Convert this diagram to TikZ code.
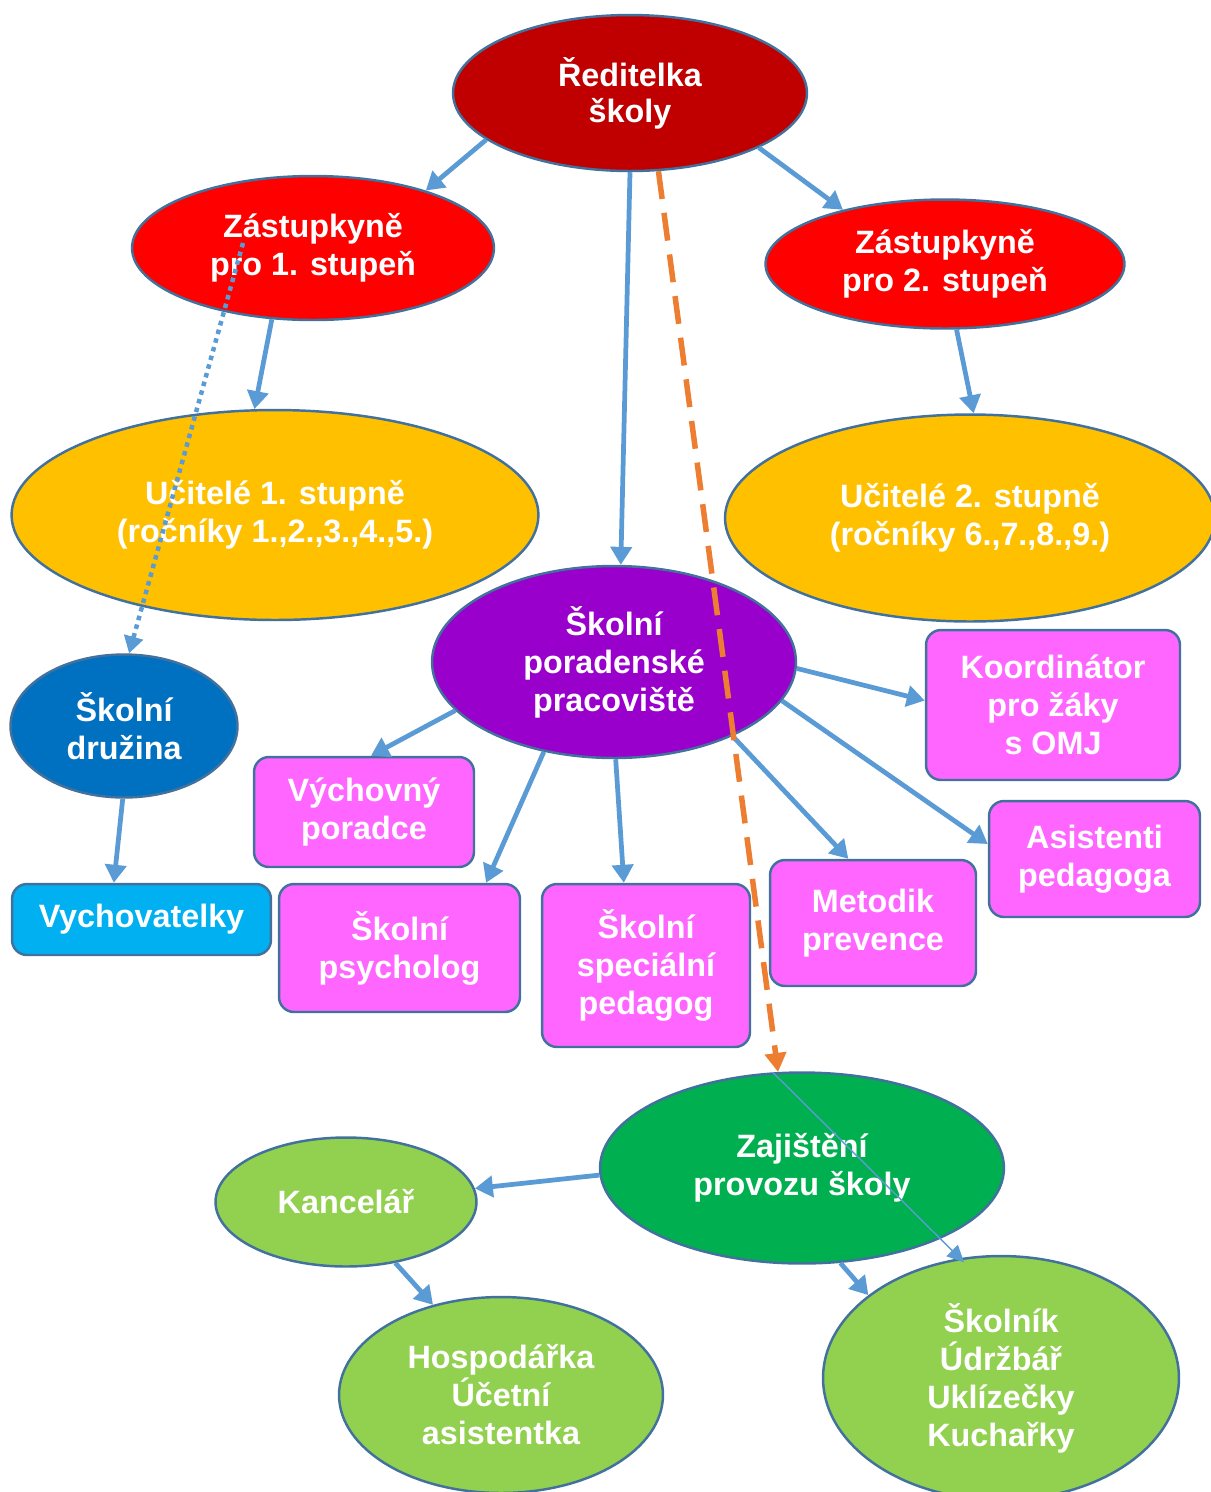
\documentclass[tikz,border=0pt]{standalone}
\usepackage{fontspec}
\setmainfont{Liberation Sans}
\usetikzlibrary{shapes.geometric,arrows.meta}
\definecolor{headred}{HTML}{C00000}
\definecolor{deputyred}{HTML}{FF0000}
\definecolor{teachgold}{HTML}{FFC000}
\definecolor{counselpurple}{HTML}{9900CC}
\definecolor{clubblue}{HTML}{0070C0}
\definecolor{carecyan}{HTML}{00B0F0}
\definecolor{staffpink}{HTML}{FF66FF}
\definecolor{opsgreen}{HTML}{00B050}
\definecolor{lightgreen}{HTML}{92D050}
\definecolor{linkblue}{HTML}{5B9BD5}
\definecolor{outline}{HTML}{41719C}
\definecolor{dashorange}{HTML}{ED7D31}
\begin{document}
\begin{tikzpicture}[x=0.02cm,y=-0.02cm,
  label font/.style={font=\bfseries\fontsize{18.4}{21.6}\selectfont},
  oval/.style={ellipse, draw=outline, line width=1.4pt, inner sep=0pt,
    text=white, label font, align=center},
  box/.style={rectangle, rounded corners=0.3cm, draw=outline, line width=1.4pt,
    inner sep=0pt, text=white, label font, align=center},
  link/.style={draw=linkblue, line width=0.095cm,
    -{Triangle[length=0.36cm,width=0.42cm]}},
  dotlink/.style={draw=linkblue, line width=0.09cm,
    dash pattern=on 0.09cm off 0.09cm,
    -{Triangle[length=0.34cm,width=0.38cm]}},
  dashlink/.style={draw=dashorange, line width=0.11cm,
    dash pattern=on 0.56cm off 0.28cm,
    -{Triangle[length=0.38cm,width=0.42cm]}},
  thinlink/.style={draw=linkblue, line width=0.8pt,
    -{Triangle[length=0.34cm,width=0.32cm]}}
]
\useasboundingbox (0,0) rectangle (1211,1492);
\clip (0,0) rectangle (1211,1492);

% leadership
\node[oval, fill=headred, minimum width=7.08cm, minimum height=3.12cm] (head) at (630,93) {Ředitelka\\[-1pt]školy};
\node[oval, fill=deputyred, minimum width=7.24cm, minimum height=2.88cm] (dep1) at (313,248) {Zástupkyně\\pro 1. stupeň};
\node[oval, fill=deputyred, minimum width=7.18cm, minimum height=2.58cm] (dep2) at (945,264) {Zástupkyně\\pro 2. stupeň};

% teachers
\node[oval, fill=teachgold, minimum width=10.54cm, minimum height=4.2cm] (teach1) at (275,515) {Učitelé 1. stupně\\(ročníky 1.,2.,3.,4.,5.)};
\node[oval, fill=teachgold, minimum width=9.8cm, minimum height=4.14cm] (teach2) at (970,518) {Učitelé 2. stupně\\(ročníky 6.,7.,8.,9.)};

% counselling centre and its staff
\node[oval, fill=counselpurple, minimum width=7.28cm, minimum height=3.84cm] (spp) at (614,662) {Školní\\poradenské\\pracoviště};
\node[box, fill=staffpink, minimum width=4.4cm, minimum height=2.2cm] (advisor) at (364,812) {Výchovný\\poradce};
\node[box, fill=staffpink, minimum width=4.82cm, minimum height=2.56cm] (psych) at (399.5,948) {Školní\\psycholog};
\node[box, fill=staffpink, minimum width=4.16cm, minimum height=3.26cm] (special) at (646,965.5) {Školní\\speciální\\pedagog};
\node[box, fill=staffpink, minimum width=4.12cm, minimum height=2.52cm] (prevent) at (873,923) {Metodik\\prevence};
\node[box, fill=staffpink, minimum width=4.22cm, minimum height=2.32cm] (assist) at (1094.5,859) {Asistenti\\pedagoga};
\node[box, fill=staffpink, minimum width=5.08cm, minimum height=3.0cm] (coord) at (1053,705) {Koordinátor\\pro žáky\\s OMJ};

% after-school club
\node[oval, fill=clubblue, minimum width=4.54cm, minimum height=2.86cm] (club) at (124,726) {Školní\\družina};
\node[box, fill=carecyan, minimum width=5.18cm, minimum height=1.42cm] (carers) at (141.5,919.5) {Vychovatelky};

% operations
\node[oval, fill=opsgreen, minimum width=8.08cm, minimum height=3.82cm] (ops) at (802,1168) {Zajištění\\provozu školy};
\node[oval, fill=lightgreen, minimum width=5.22cm, minimum height=2.58cm] (office) at (346,1202) {Kancelář};
\node[oval, fill=lightgreen, minimum width=6.48cm, minimum height=3.92cm] (finance) at (501,1395) {Hospodářka\\Účetní\\asistentka};
\node[oval, fill=lightgreen, minimum width=7.12cm, minimum height=4.88cm] (service) at (1001,1378) {Školník\\Údržbář\\Uklízečky\\Kuchařky};

% connectors
\draw[link] (head.198.4) -- (dep1.27.4);
\draw[link] (head.-23.1) -- (dep2.152.8);
\draw[link] (head.-90) -- (spp.86);
\draw[link] (dep1.-120.5) -- (teach1.101.5);
\draw[link] (dep2.-80) -- (teach2.88.3);
\draw[link] (club.-91.5) -- (carers.127.8);
\draw[link] (spp.197.6) -- (advisor.83.8);
\draw[link] (spp.232.5) -- (psych.37.1);
\draw[link] (spp.-89.4) -- (special.105.1);
\draw[link] (spp.-32.2) -- (prevent.111.6);
\draw[link] (spp.-13.9) -- (assist.172.5);
\draw[link] (spp.-2.5) -- (coord.178.6);
\draw[link] (ops.182.6) -- (office.6.2);
\draw[link] (office.-51.9) -- (finance.127.4);
\draw[link] (ops.-68) -- (service.148.3);

\coordinate (dotstart) at (243,243);
\draw[dotlink] (dotstart) -- (club.86.9);
\draw[dashlink] (head.-70.1) -- (ops.104.5);
\draw[thinlink] (ops.107.3) -- ([yshift=-0.1cm]service.107.7);
\end{tikzpicture}
\end{document}
